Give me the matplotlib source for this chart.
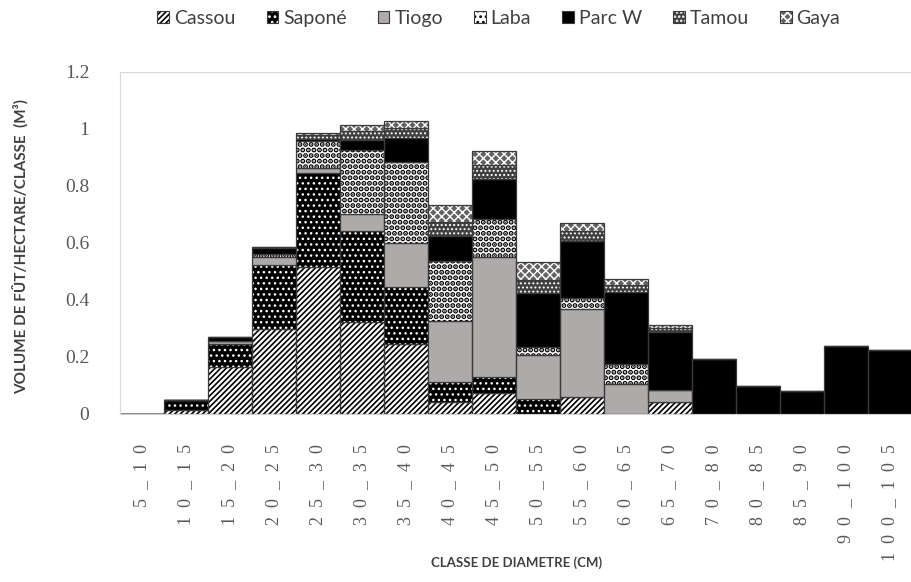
import matplotlib
matplotlib.use("Agg")
import matplotlib.pyplot as plt
import numpy as np
from matplotlib.patches import Patch
from matplotlib.legend_handler import HandlerTuple

# diameter classes (cm)
classes = ['5_10', '10_15', '15_20', '20_25', '25_30', '30_35', '35_40', '40_45', '45_50',
           '50_55', '55_60', '60_65', '65_70', '70_80', '80_85', '85_90', '90_100', '100_105']

# stem volume per hectare per class (m3), one list per site
cassou = [0, 0.012, 0.163, 0.296, 0.515, 0.322, 0.245, 0.040, 0.072, 0, 0.058, 0, 0.040, 0, 0, 0, 0, 0]
sapone = [0, 0.035, 0.082, 0.225, 0.329, 0.320, 0.198, 0.070, 0.056, 0.052, 0, 0, 0, 0, 0, 0, 0, 0]
tiogo = [0, 0, 0.011, 0.028, 0.018, 0.059, 0.155, 0.215, 0.423, 0.155, 0.310, 0.105, 0.043, 0, 0, 0, 0, 0]
laba = [0, 0, 0, 0.013, 0.094, 0.225, 0.287, 0.210, 0.133, 0.025, 0.039, 0.070, 0, 0, 0, 0, 0, 0]
parc_w = [0, 0, 0.012, 0.021, 0.008, 0.035, 0.082, 0.088, 0.140, 0.192, 0.200, 0.251, 0.202,
          0.190, 0.096, 0.079, 0.237, 0.224]
tamou = [0, 0, 0, 0.003, 0.015, 0.033, 0.035, 0.050, 0.050, 0.045, 0.035, 0.027, 0.015, 0, 0, 0, 0, 0]
gaya = [0, 0, 0, 0, 0.008, 0.018, 0.027, 0.059, 0.049, 0.065, 0.026, 0.021, 0.010, 0, 0, 0, 0, 0]

sites = ['Cassou', 'Saponé', 'Tiogo', 'Laba', 'Parc W', 'Tamou', 'Gaya']
series = [cassou, sapone, tiogo, laba, parc_w, tamou, gaya]

# face colour, hatch colour, hatch pattern, hatch line width for each site
styles = [
    ('white', 'black', '//////', 1.2),
    ('black', 'white', '...', 1.0),
    ('#aeaaa9', '#aeaaa9', None, 1.0),
    ('white', 'black', '...', 2.6),
    ('black', 'black', None, 1.0),
    ('#404040', 'white', '....', 0.9),
    ('#626262', 'white', 'xxxx', 1.0),
]

plt.rcParams['hatch.linewidth'] = 1.2
has_hlw = hasattr(Patch, 'set_hatch_linewidth')

fig = plt.figure(figsize=(9.12, 5.82), dpi=100)
ax = fig.add_axes([0.1316, 0.2895, 0.8684, 0.5868])

x = np.arange(len(classes))
bottom = np.zeros(len(classes))
handles = []
for name, vals, (face, hcol, hatch, hlw) in zip(sites, series, styles):
    vals = np.array(vals)
    bars = ax.bar(x, vals, width=1.0, bottom=bottom, color=face, edgecolor=hcol,
                  hatch=hatch, linewidth=0)
    leg = Patch(facecolor=face, edgecolor=hcol, hatch=hatch, linewidth=0)
    if has_hlw:
        for b in bars:
            b.set_hatch_linewidth(hlw)
        leg.set_hatch_linewidth(hlw)
    ax.bar(x, vals, width=1.0, bottom=bottom, fill=False, edgecolor='#3a3a3a', linewidth=0.9)
    handles.append((leg, Patch(fill=False, edgecolor='#3a3a3a', linewidth=0.8)))
    bottom += vals

ax.set_xlim(-0.5, len(classes) - 0.5)
ax.set_ylim(0, 1.2)
ax.set_yticks([0, 0.2, 0.4, 0.6, 0.8, 1.0, 1.2])
ax.set_yticklabels(['0', '0.2', '0.4', '0.6', '0.8', '1', '1.2'],
                   fontfamily='Liberation Serif', fontsize=14, color='#595959')
ax.set_xticks(x)
ax.set_xticklabels(['  '.join(c) for c in classes], rotation=90,
                   fontfamily='Liberation Serif', fontsize=13, color='#595959', va='top')
ax.tick_params(axis='both', length=0)
ax.tick_params(axis='y', pad=22)
ax.tick_params(axis='x', pad=22)

for side in ['left', 'top', 'right']:
    ax.spines[side].set_color('#d9d9d9')
ax.spines['bottom'].set_color('#d0d0d0')

fig.text(0.022, 0.577, 'VOLUME DE FÛT/HECTARE/CLASSE  (M³)', rotation=90, ha='center', va='center',
         fontfamily='Lato', fontweight='bold', fontsize=11, color='#404040')
fig.text(0.566, 0.034, 'CLASSE DE DIAMETRE (CM)', ha='center', va='center',
         fontfamily='Lato', fontweight='bold', fontsize=9.5, color='#404040')

fig.legend(handles, sites, loc='center', bbox_to_anchor=(0.547, 0.969), ncol=7, frameon=False,
           handler_map={tuple: HandlerTuple(ndivide=1)},
           handlelength=0.6, handleheight=0.6, handletextpad=0.25, columnspacing=1.6,
           prop={'family': 'Lato', 'size': 14}, labelcolor='#404040')

fig.savefig('out.png', dpi=100)
